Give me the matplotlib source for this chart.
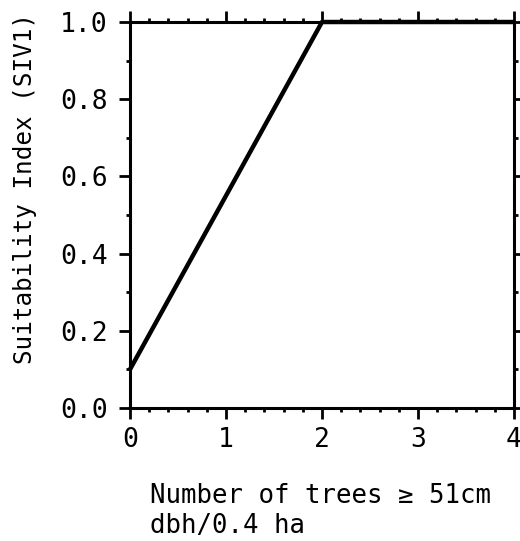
import matplotlib
matplotlib.use('Agg')
import matplotlib.pyplot as plt
from matplotlib.ticker import MultipleLocator

# suitability curve: trees >= 51cm dbh per 0.4 ha
trees = [0, 2, 4]
siv1 = [0.1, 1.0, 1.0]

xticks = [0, 1, 2, 3, 4]
yticks = [0.0, 0.2, 0.4, 0.6, 0.8, 1.0]

plt.rcParams['font.family'] = ['DejaVu Sans Mono']

fig = plt.figure(figsize=(5.2, 5.41), dpi=100)
ax = fig.add_axes([130/520, 133/541, 384/520, 386/541])

ax.plot(trees, siv1, color='black', linewidth=3.2, solid_capstyle='butt', clip_on=False)

ax.set_xlim(0, 4)
ax.set_ylim(0, 1.0)
ax.set_xticks(xticks)
ax.set_yticks(yticks)
ax.set_xticklabels([str(v) for v in xticks])
ax.set_yticklabels(['%.1f' % v for v in yticks])
ax.xaxis.set_minor_locator(MultipleLocator(0.2))
ax.yaxis.set_minor_locator(MultipleLocator(0.1))

for s in ax.spines.values():
    s.set_linewidth(2.2)

ax.tick_params(which='major', direction='out', length=8, width=2, labelsize=19,
               top=True, right=True, pad=6)
ax.tick_params(which='minor', direction='out', length=3, width=2,
               top=True, right=True)
ax.tick_params(axis='y', which='major', pad=8)

fig.text(25/520, 1 - 188/541, 'Suitability Index (SIV1)', fontsize=17.5,
         rotation=90, ha='center', va='center')
fig.text(150/520, 1 - 511/541, 'Number of trees \u2265 51cm\ndbh/0.4 ha', fontsize=18.5,
         ha='left', va='center', linespacing=1.2)

fig.savefig('out.png', dpi=100)
